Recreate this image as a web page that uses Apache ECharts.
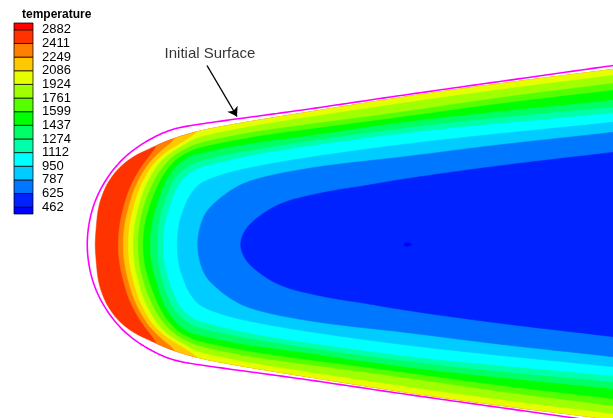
<!DOCTYPE html>
<html>
<head>
<meta charset="utf-8">
<style>
  html, body { margin: 0; padding: 0; background: #fff; }
  #main { width: 613px; height: 418px; }
</style>
<script src="https://cdn.jsdelivr.net/npm/echarts@6/dist/echarts.min.js"></script>
</head>
<body>
<div id="main"></div>
<script>
// legend levels, bottom to top
const levelLabels = ['462', '625', '787', '950', '1112', '1274', '1437', '1599', '1761', '1924', '2086', '2249', '2411', '2882'];
// band colours, coldest first (below 462 ... above 2882)
const bandColors = ['#0000ff', '#0022ff', '#0077ff', '#00ccff', '#00ffff', '#00ffaa', '#00ff66', '#00ff00',
    '#55ff00', '#a0ff00', '#e6ff00', '#ffc800', '#ff7f00', '#ff3300', '#ff0000'];

// upper half of the body as [x, distance from axis]; lower half is mirrored
const initialSurface = [[87, 0], [88, 15], [91, 31], [96, 46], [103, 60], [113, 75], [127, 90], [147, 104],
    [170, 115], [195, 120], [300, 134], [400, 149], [500, 163], [613, 179], [650, 184]];
const heatedSurface = [[95, 0], [96, 15], [98, 36], [103, 52], [109, 64], [119, 77], [133, 88], [150, 96],
    [170, 105], [200, 114], [250, 123], [300, 131], [400, 147], [500, 161], [613, 175], [650, 180]];

// iso-lines (upper half), hottest first
const iso2411 = [[118, 0], [119.5, 20], [124, 39], [129, 55], [136, 69], [143, 80], [150, 89], [156, 97], [165, 115], [200, 150], [650, 320]];
const iso2249 = [[123, 0], [124.5, 20], [129, 39], [134, 55], [141, 69], [148, 80], [156, 89], [165, 97], [174, 104], [182, 118], [220, 150], [650, 320]];
const iso2086 = [[128, 0], [129.5, 20], [134, 39], [139, 55], [146, 69], [153, 80], [162, 89], [172, 96], [184, 103], [196, 111], [206, 122], [240, 150], [650, 320]];
const iso1924 = [[133, 0], [134.5, 20], [139, 39], [144, 55], [151, 69], [158, 80], [167, 89], [178, 96], [190, 103], [200, 108], [250, 118], [300, 126], [400, 141], [500, 155], [613, 169], [650, 174]];
const iso1761 = [[138, 0], [139.5, 20], [144, 39], [150, 55], [157, 69], [165, 80], [174, 89], [186, 96], [200, 102], [250, 112], [300, 119], [400, 132], [500, 147], [613, 161], [650, 166]];
const iso1599 = [[143, 0], [144.5, 20], [150, 39], [156, 55], [163, 69], [171, 80], [180, 88], [190, 93], [200, 97], [250, 107], [300, 114], [400, 127], [500, 141], [613, 154], [650, 159]];
const iso1437 = [[150, 0], [151.5, 20], [157, 39], [162, 55], [169, 69], [177, 79], [187, 87], [200, 91], [250, 101], [300, 107], [400, 122], [500, 133], [613, 144], [650, 149]];
const iso1274 = [[157, 0], [158.5, 20], [163, 39], [169, 55], [176, 68], [186, 77], [200, 84], [250, 94], [300, 102], [400, 116], [500, 127], [613, 137], [650, 142]];
const iso1112 = [[163, 0], [164.5, 20], [170, 39], [176, 55], [183, 66], [192, 73], [200, 77], [250, 89], [300, 97], [400, 111], [500, 121], [613, 131], [650, 136]];
const iso950 = [[177, 0], [178.5, 20], [184, 37], [190, 50], [200, 62], [225, 71], [250, 77], [300, 86], [400, 100], [500, 111], [613, 122], [650, 127]];
const iso787 = [[197, 0], [200, 19], [206, 33], [217, 44], [233, 56], [250, 64], [283, 72], [333, 80], [400, 87], [500, 100], [613, 112], [650, 117]];
const iso625 = [[240, 0], [243, 11], [250, 21], [267, 34], [283, 42], [300, 47], [333, 54], [367, 59], [400, 65], [500, 79], [613, 92], [650, 97]];
const iso462 = [[403, 0], [407, 2.5], [412, 0]];

const isoLines = [iso2411, iso2249, iso2086, iso1924, iso1761, iso1599, iso1437, iso1274, iso1112, iso950, iso787, iso625, iso462];

// corner cutting, keeps both ends
function chaikin(pts, n) {
    let p = pts;
    for (let it = 0; it < n; it++) {
        const q = [p[0]];
        for (let i = 0; i < p.length - 1; i++) {
            const a = p[i], b = p[i + 1];
            q.push([0.75 * a[0] + 0.25 * b[0], 0.75 * a[1] + 0.25 * b[1]]);
            q.push([0.25 * a[0] + 0.75 * b[0], 0.25 * a[1] + 0.75 * b[1]]);
        }
        q.push(p[p.length - 1]);
        p = q;
    }
    return p;
}

function mirrored(upper) {
    const lower = upper.slice(1).reverse().map(p => [p[0], -p[1]]);
    return lower.concat(upper);
}

const outerFull = chaikin(mirrored(heatedSurface), 4);
const outerUpper = outerFull.filter(p => p[1] >= 0).sort((a, b) => a[0] - b[0]);

function surfaceH(x) {
    if (x <= outerUpper[0][0]) return 0;
    for (let i = 1; i < outerUpper.length; i++) {
        if (x <= outerUpper[i][0]) {
            const a = outerUpper[i - 1], b = outerUpper[i];
            return a[1] + (b[1] - a[1]) * (x - a[0]) / ((b[0] - a[0]) || 1);
        }
    }
    return outerUpper[outerUpper.length - 1][1];
}

function isoPolygon(upper) {
    return chaikin(mirrored(upper), 4).map(([x, h]) => {
        const lim = surfaceH(x);
        return [x, Math.max(-lim, Math.min(lim, h))];
    });
}

// region inside each iso-line gets the next colder colour
const fieldShapes = [{ points: outerFull, color: bandColors[13] }];
isoLines.forEach((line, i) => {
    fieldShapes.push({ points: isoPolygon(line), color: bandColors[12 - i] });
});

const surfaceLine = chaikin(mirrored(initialSurface), 4);

const chart = echarts.init(document.getElementById('main'));
const font = 'Liberation Sans, Arial, Helvetica, sans-serif';

chart.setOption({
    animation: false,
    backgroundColor: '#ffffff',
    title: {
        text: 'temperature',
        left: 22,
        top: 9,
        padding: 0,
        textStyle: { fontSize: 12, fontWeight: 'bold', color: '#000', fontFamily: font }
    },
    grid: [
        { left: 0, right: 0, top: 0, bottom: 0 },
        { left: 14, top: 23, width: 19, height: 191 }
    ],
    xAxis: [
        { type: 'value', min: 0, max: 613, show: false },
        { type: 'value', min: 0, max: 1, show: false, gridIndex: 1 }
    ],
    yAxis: [
        { type: 'value', min: -173.5, max: 244.5, show: false },
        {
            type: 'value', gridIndex: 1, min: 0, max: 14, position: 'right',
            axisLine: { show: false }, axisTick: { show: false }, splitLine: { show: false },
            axisLabel: {
                customValues: levelLabels.map((_, i) => i + 0.5),
                formatter: v => levelLabels[Math.round(v - 0.5)],
                margin: 9,
                fontSize: 13,
                color: '#000',
                fontFamily: font
            }
        }
    ],
    series: [
        {
            type: 'custom',
            silent: true,
            xAxisIndex: 0,
            yAxisIndex: 0,
            data: fieldShapes.map((_, i) => [i]),
            renderItem: (params, api) => {
                const s = fieldShapes[params.dataIndex];
                return {
                    type: 'polygon',
                    shape: { points: s.points.map(p => api.coord(p)) },
                    style: { fill: s.color, stroke: s.color, lineWidth: 0.6 }
                };
            }
        },
        {
            type: 'line',
            silent: true,
            xAxisIndex: 0,
            yAxisIndex: 0,
            showSymbol: false,
            data: surfaceLine,
            lineStyle: { color: '#ff00ff', width: 1.6 },
            z: 3
        },
        {
            type: 'scatter',
            silent: true,
            xAxisIndex: 0,
            yAxisIndex: 0,
            symbolSize: 0,
            data: [[210, 190.5]],
            label: {
                show: true,
                position: 'inside',
                formatter: 'Initial Surface',
                fontSize: 15,
                color: '#000',
                fontFamily: font
            },
            markLine: {
                silent: true,
                symbol: ['none', 'arrow'],
                symbolSize: 9,
                label: { show: false },
                lineStyle: { color: '#000', width: 1.4, type: 'solid' },
                data: [[{ coord: [207, 179] }, { coord: [237, 128] }]]
            },
            z: 4
        },
        {
            type: 'custom',
            silent: true,
            xAxisIndex: 1,
            yAxisIndex: 1,
            data: bandColors.map((_, i) => [i]),
            renderItem: (params, api) => {
                const i = params.dataIndex;
                const lo = Math.max(0, i - 0.5), hi = Math.min(14, i + 0.5);
                const p0 = api.coord([0, hi]), p1 = api.coord([1, lo]);
                return {
                    type: 'rect',
                    shape: { x: p0[0], y: p0[1], width: p1[0] - p0[0], height: p1[1] - p0[1] },
                    style: { fill: bandColors[i], stroke: 'rgba(0,0,0,0.75)', lineWidth: 1 }
                };
            }
        }
    ]
});
</script>
</body>
</html>
